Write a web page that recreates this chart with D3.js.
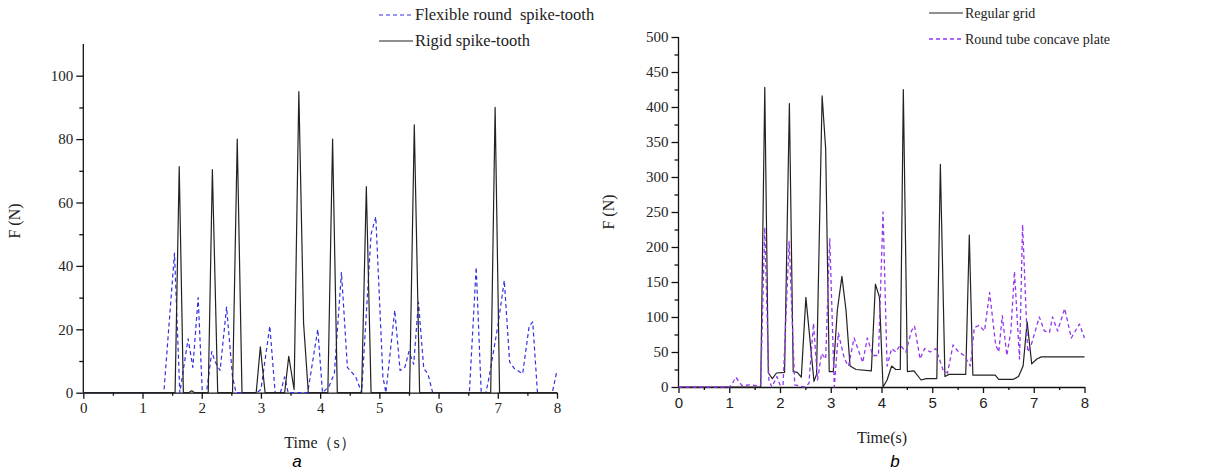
<!DOCTYPE html>
<html>
<head>
<meta charset="utf-8">
<script src="https://cdn.jsdelivr.net/npm/d3@7"></script>
<style>
  body { margin: 0; background: #fff; }
  svg { display: block; }
  .serif { font-family: "Liberation Serif", "Times New Roman", serif; }
  .sans { font-family: "Liberation Sans", Arial, sans-serif; }
</style>
</head>
<body>
<svg id="chart" width="1211" height="471"></svg>
<script>
// chart a : time (s) / force (N)
var rigidT = [0, 1.55, 1.62, 1.69, 1.78, 1.83, 1.88, 2.11, 2.18, 2.27, 2.52, 2.60, 2.68, 2.92, 2.99, 3.07, 3.40, 3.47, 3.56, 3.64, 3.72, 3.80, 4.13, 4.21, 4.29, 4.70, 4.78, 4.86, 5.51, 5.59, 5.68, 6.88, 6.955, 7.03, 8];
var rigidF = [0, 0, 71.3, 0, 0, 0.6, 0, 0, 70.4, 0, 0, 80, 0, 0, 14.5, 0, 0, 11.5, 1, 95, 22, 0, 0, 80, 0, 0, 65, 0, 0, 84.5, 0, 0, 90, 0, 0];

var flexT = [0, 1.36, 1.54, 1.63, 1.77, 1.85, 1.94, 2.01, 2.08, 2.17, 2.22, 2.31, 2.42, 2.52, 2.58, 2.93, 3.0, 3.15, 3.24, 3.33, 3.40, 3.46, 3.79, 3.96, 4.04, 4.15, 4.24, 4.36, 4.46, 4.60, 4.70, 4.86, 4.94, 5.06, 5.11, 5.26, 5.35, 5.43, 5.50, 5.58, 5.66, 5.75, 5.82, 5.90, 6.52, 6.635, 6.72, 6.80, 6.86, 7.0, 7.11, 7.20, 7.28, 7.42, 7.53, 7.59, 7.67, 7.92, 8.0];
var flexF = [0, 0, 44, 0, 17, 8, 30, 0, 0, 13, 10, 7, 27, 5, 0, 0, 1, 21, 0, 0, 5, 0, 0, 20, 0, 2, 6, 38, 8, 5, 0, 50, 55.5, 5, 0, 26, 7, 8, 13, 9, 28.6, 7.6, 6, 0, 0, 39.6, 0, 0, 5.5, 21, 35.4, 9.7, 7.6, 6, 21, 22.3, 0, 0, 7];

// chart b
var gridT = [0, 1.62, 1.70, 1.77, 1.85, 1.93, 2.09, 2.185, 2.26, 2.34, 2.42, 2.51, 2.67, 2.72, 2.83, 2.90, 2.97, 3.05, 3.13, 3.22, 3.30, 3.38, 3.50, 3.80, 3.88, 3.96, 4.03, 4.11, 4.20, 4.28, 4.37, 4.43, 4.51, 4.64, 4.78, 4.88, 5.09, 5.16, 5.25, 5.33, 5.66, 5.73, 5.80, 6.24, 6.31, 6.60, 6.70, 6.79, 6.87, 6.96, 7.06, 7.15, 8.0];
var gridF = [0, 0, 428, 20, 12, 20, 21, 405, 22, 21, 14, 128, 8, 18, 416, 340, 22, 22, 110, 158, 110, 30, 25, 23, 147, 128, 0, 10, 30, 25, 25, 425, 22, 23, 10, 12, 12, 318, 15, 18, 18, 217, 17, 17, 11, 11, 15, 30, 93, 33, 40, 43, 43];

var tubeT = [0, 1.0, 1.06, 1.13, 1.25, 1.40, 1.55, 1.62, 1.70, 1.78, 1.84, 1.94, 2.0, 2.06, 2.18, 2.29, 2.48, 2.57, 2.66, 2.74, 2.82, 2.90, 2.98, 3.07, 3.15, 3.27, 3.35, 3.46, 3.63, 3.72, 3.83, 3.94, 4.03, 4.11, 4.20, 4.28, 4.37, 4.48, 4.59, 4.65, 4.76, 4.85, 4.96, 5.07, 5.21, 5.30, 5.41, 5.52, 5.63, 5.75, 5.83, 5.92, 6.03, 6.13, 6.25, 6.31, 6.38, 6.47, 6.55, 6.62, 6.72, 6.78, 6.88, 6.95, 7.11, 7.21, 7.31, 7.37, 7.47, 7.61, 7.74, 7.90, 8.0];
var tubeF = [0, 0, 5, 14, 2, 3, 2, 3, 228, 10, 0, 15, 3, 2, 208, 3, 0, 5, 91, 10, 48, 40, 212, 0, 77, 40, 30, 70, 35, 70, 45, 45, 250, 30, 55, 50, 60, 50, 80, 87, 40, 55, 50, 55, 25, 20, 60, 50, 45, 30, 85, 88, 80, 135, 60, 50, 102, 45, 80, 165, 40, 232, 50, 60, 100, 80, 78, 100, 80, 112, 70, 90, 70];

var xTicks = [0, 1, 2, 3, 4, 5, 6, 7, 8];
var xMinor = [0.5, 1.5, 2.5, 3.5, 4.5, 5.5, 6.5, 7.5];
var aTicks = [0, 20, 40, 60, 80, 100];
var aMinor = [10, 30, 50, 70, 90];
var bTicks = [0, 50, 100, 150, 200, 250, 300, 350, 400, 450, 500];
var bMinor = [25, 75, 125, 175, 225, 275, 325, 375, 425, 475];

var svg = d3.select("#chart");

function zip(ts, fs) {
    return ts.map(function(t, i) { return [t, fs[i]]; });
}

function drawPanel(cfg) {
    var g = svg.append("g");
    var x = d3.scaleLinear().domain([0, 8]).range(cfg.xr);
    var y = d3.scaleLinear().domain([0, cfg.ymax]).range(cfg.yr);

    // minor ticks first
    g.append("g").attr("transform", "translate(0," + cfg.yr[0] + ")")
        .call(d3.axisBottom(x).tickValues(xMinor).tickSize(3).tickFormat(""))
        .call(function(s) { s.select(".domain").remove(); });
    g.append("g").attr("transform", "translate(" + cfg.xr[0] + ",0)")
        .call(d3.axisLeft(y).tickValues(cfg.minor).tickSize(4).tickFormat(""))
        .call(function(s) { s.select(".domain").remove(); });

    var xa = g.append("g").attr("transform", "translate(0," + cfg.yr[0] + ")")
        .call(d3.axisBottom(x).tickValues(xTicks).tickSize(6).tickPadding(4).tickSizeOuter(0));
    xa.selectAll("text").attr("class", cfg.xFont).style("font-size", "15px").attr("fill", "#222");

    var ya = g.append("g").attr("transform", "translate(" + cfg.xr[0] + ",0)")
        .call(d3.axisLeft(y).tickValues(cfg.major).tickSize(7).tickPadding(3).tickSizeOuter(0));
    ya.selectAll("text").attr("class", "serif").style("font-size", "15px").attr("fill", "#222");
    ya.select(".domain").attr("d", "M0," + y(0) + "V" + y(cfg.ytop));

    g.selectAll(".domain, .tick line").attr("stroke", "#111").attr("stroke-width", 1.3);

    var line = d3.line().x(function(d) { return x(d[0]); }).y(function(d) { return y(d[1]); });

    cfg.series.forEach(function(s) {
        g.append("path").datum(s.data)
            .attr("d", line)
            .attr("fill", "none")
            .attr("stroke", s.color)
            .attr("stroke-width", s.width)
            .attr("stroke-dasharray", s.dash)
            .attr("stroke-linejoin", "round");
    });

    // legend
    cfg.series.forEach(function(s, i) {
        var ly = cfg.legend[1] + i * 26;
        g.append("line")
            .attr("x1", cfg.legend[0]).attr("x2", cfg.legend[0] + 34)
            .attr("y1", ly).attr("y2", ly)
            .attr("stroke", s.color).attr("stroke-width", s.width)
            .attr("stroke-dasharray", s.dash);
        g.append("text")
            .attr("class", "serif")
            .attr("x", cfg.legend[0] + 36).attr("y", ly + 5)
            .style("font-size", cfg.legendSize).style("white-space", "pre")
            .attr("fill", "#222")
            .text(s.name);
    });

    g.append("text").attr("class", "serif")
        .attr("transform", "translate(" + cfg.ylab[0] + "," + cfg.ylab[1] + ") rotate(-90)")
        .attr("text-anchor", "middle").style("font-size", "16px").attr("fill", "#222")
        .text("F (N)");
    g.append("text").attr("class", "serif")
        .attr("x", cfg.xlab[0]).attr("y", cfg.xlab[1])
        .attr("text-anchor", "middle").style("font-size", "16px").attr("fill", "#222")
        .text(cfg.xtitle);
    g.append("text").attr("class", "sans")
        .attr("x", cfg.letter[0]).attr("y", cfg.letter[1])
        .attr("text-anchor", "middle").style("font-size", "17px").style("font-style", "italic")
        .attr("fill", "#000")
        .text(cfg.name);
}

drawPanel({
    xr: [83.3, 557], yr: [392.7, 75.7], ymax: 100, ytop: 110,
    major: aTicks, minor: aMinor, xFont: "serif",
    legend: [379, 15], legendSize: "16.5px",
    ylab: [20, 221], xlab: [320, 448], xtitle: "Time（s）",
    letter: [297, 467], name: "a",
    series: [
        { name: "Flexible round  spike-tooth", data: zip(flexT, flexF), color: "#3030e3", width: 1.2, dash: "4,3" },
        { name: "Rigid spike-tooth", data: zip(rigidT, rigidF), color: "#222", width: 1.2, dash: null }
    ]
});

drawPanel({
    xr: [678.5, 1084.5], yr: [387, 37], ymax: 500, ytop: 500,
    major: bTicks, minor: bMinor, xFont: "sans",
    legend: [929, 13], legendSize: "14px",
    ylab: [614, 212], xlab: [882, 443], xtitle: "Time(s)",
    letter: [895, 467], name: "b",
    series: [
        { name: "Regular grid", data: zip(gridT, gridF), color: "#222", width: 1.2, dash: null },
        { name: "Round tube concave plate", data: zip(tubeT, tubeF), color: "#9438ee", width: 1.3, dash: "4,3" }
    ]
});
</script>
</body>
</html>
